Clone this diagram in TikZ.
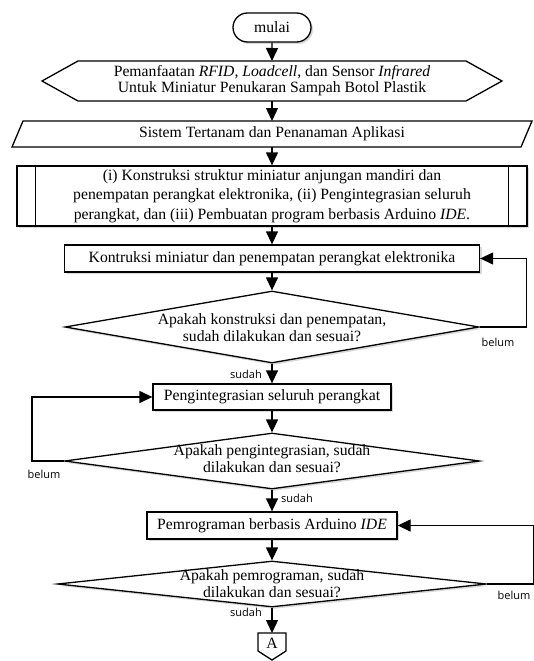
\documentclass[tikz,border=0pt]{standalone}
\usepackage{fontspec}
\setmainfont{Liberation Serif}
\newfontfamily\lblfont{Open Sans}
\usetikzlibrary{arrows.meta,shapes.geometric,shapes.misc,shadows,calc}
\begin{document}
\begin{tikzpicture}[x=1pt,y=-1pt,
  every node/.style={inner sep=0pt},
  txt/.style={font=\fontsize{15.7}{17}\selectfont, align=center},
  shp/.style={draw=black, line width=1.3pt, fill=white},
  shd/.style={drop shadow={shadow xshift=2pt,shadow yshift=-2pt,fill=black!15,opacity=1}},
  shdfill/.style={fill=black!15},
  outl/.style={draw=black, line width=1.3pt, fill=white},
  arr/.style={line width=1.3pt,-{Triangle[length=13pt,width=12pt]}},
  lnk/.style={line width=1.3pt},
  lbl/.style={font=\lblfont\fontsize{11}{13}\selectfont},
  boxst/.style={shp,shd,txt,rectangle},
  diast/.style={shp,shd,diamond},
]
\useasboundingbox (0,0) rectangle (534,661);

% terminal
\node[shp,shd,txt,rounded rectangle,minimum width=78pt,minimum height=29pt] (m) at (272,27.5) {mulai};

% hexagon
\coordinate (hxc) at (272,81);
\begin{scope}[xshift=2pt,yshift=-2pt]
\fill[shdfill] ($(hxc)+(-230,0)$) -- ($(hxc)+(-194,-20)$) -- ($(hxc)+(194,-20)$) -- ($(hxc)+(230,0)$) -- ($(hxc)+(194,20)$) -- ($(hxc)+(-194,20)$) -- cycle;
\end{scope}
\path[outl] ($(hxc)+(-230,0)$) -- ($(hxc)+(-194,-20)$) -- ($(hxc)+(194,-20)$) -- ($(hxc)+(230,0)$) -- ($(hxc)+(194,20)$) -- ($(hxc)+(-194,20)$) -- cycle;
\node[txt,font=\fontsize{15.7}{15.5}\selectfont] (hx) at (272,80.5) {Pemanfaatan \textit{RFID}, \textit{Loadcell}, dan Sensor \textit{Infrared}\\Untuk Miniatur Penukaran Sampah Botol Plastik};
\coordinate (hxn) at ($(hxc)+(0,-20)$);
\coordinate (hxs) at ($(hxc)+(0,20)$);

% parallelogram
\coordinate (pac) at (272,134);
\begin{scope}[xshift=2pt,yshift=-2pt]
\fill[shdfill] ($(pac)+(-249,-13)$) -- ($(pac)+(260,-13)$) -- ($(pac)+(249,13)$) -- ($(pac)+(-260,13)$) -- cycle;
\end{scope}
\path[outl] ($(pac)+(-249,-13)$) -- ($(pac)+(260,-13)$) -- ($(pac)+(249,13)$) -- ($(pac)+(-260,13)$) -- cycle;
\node[txt] (pa) at (272,134) {Sistem Tertanam dan Penanaman Aplikasi};
\coordinate (pan) at ($(pac)+(0,-13)$);
\coordinate (pas) at ($(pac)+(0,13)$);

% predefined process
\node[boxst,minimum width=510pt,minimum height=60pt,font=\fontsize{15.7}{19.6}\selectfont] (pp) at (272,196) {(i) Konstruksi struktur miniatur anjungan mandiri dan\\penempatan perangkat elektronika, (ii) Pengintegrasian seluruh\\perangkat, dan (iii) Pembuatan program berbasis Arduino \textit{IDE}.};
\draw[lnk] ([xshift=19pt]pp.north west) -- ([xshift=19pt]pp.south west);
\draw[lnk] ([xshift=-19pt]pp.north east) -- ([xshift=-19pt]pp.south east);

% step 1
\node[boxst,minimum width=415pt,minimum height=27pt] (b1) at (272,258.5) {Kontruksi miniatur dan penempatan perangkat elektronika};
\node[diast,minimum width=414pt,minimum height=72pt] (d1) at (272,327) {};
\node[txt] (d1t) at (272,328) {Apakah konstruksi dan penempatan,\\sudah dilakukan dan sesuai?};

% step 2
\node[boxst,minimum width=238pt,minimum height=26pt] (b2) at (272,397) {Pengintegrasian seluruh perangkat};
\node[diast,minimum width=415pt,minimum height=56pt] (d2) at (272,461) {};
\node[txt] (d2t) at (272,459) {Apakah pengintegrasian, sudah\\dilakukan dan sesuai?};

% step 3
\node[boxst,minimum width=250pt,minimum height=27pt] (b3) at (272,525.5) {Pemrograman berbasis Arduino \textit{IDE}};
\node[diast,minimum width=429pt,minimum height=46pt] (d3) at (272,584) {};
\node[txt] (d3t) at (272,584) {Apakah pemrograman, sudah\\dilakukan dan sesuai?};

% off-page connector
\coordinate (ac) at (272,644);
\begin{scope}[xshift=2pt,yshift=-2pt]
\fill[shdfill] ($(ac)+(-14,-11)$) -- ($(ac)+(14,-11)$) -- ($(ac)+(14,7)$) -- ($(ac)+(0,16)$) -- ($(ac)+(-14,7)$) -- cycle;
\end{scope}
\path[outl] ($(ac)+(-14,-11)$) -- ($(ac)+(14,-11)$) -- ($(ac)+(14,7)$) -- ($(ac)+(0,16)$) -- ($(ac)+(-14,7)$) -- cycle;
\node[txt] (A) at (272,643) {A};
\coordinate (an) at ($(ac)+(0,-11)$);

% main arrows
\draw[arr] (m) -- (hxn);
\draw[arr] (hxs) -- (pan);
\draw[arr] (pas) -- (pp);
\draw[arr] (pp) -- (b1);
\draw[arr] (b1) -- (d1);
\draw[arr] (d1) -- (b2);
\draw[arr] (b2) -- (d2);
\draw[arr] (d2) -- (b3);
\draw[arr] (b3) -- (d3);
\draw[arr] (d3) -- (an);

% loops
\draw[arr] (d1.east) -- ++(47,0) |- (b1.east);
\draw[arr] (d2.west) -- ++(-32,0) |- (b2.west);
\draw[arr] (d3.east) -- ++(46,0) |- (b3.east);

% labels
\node[lbl] (l1) at (498,342) {belum};
\node[lbl] (s1) at (246,374) {sudah};
\node[lbl] (l2) at (44,474) {belum};
\node[lbl] (s2) at (297,498) {sudah};
\node[lbl] (l3) at (514,595) {belum};
\node[lbl] (s3) at (246,612) {sudah};
\end{tikzpicture}
\end{document}
